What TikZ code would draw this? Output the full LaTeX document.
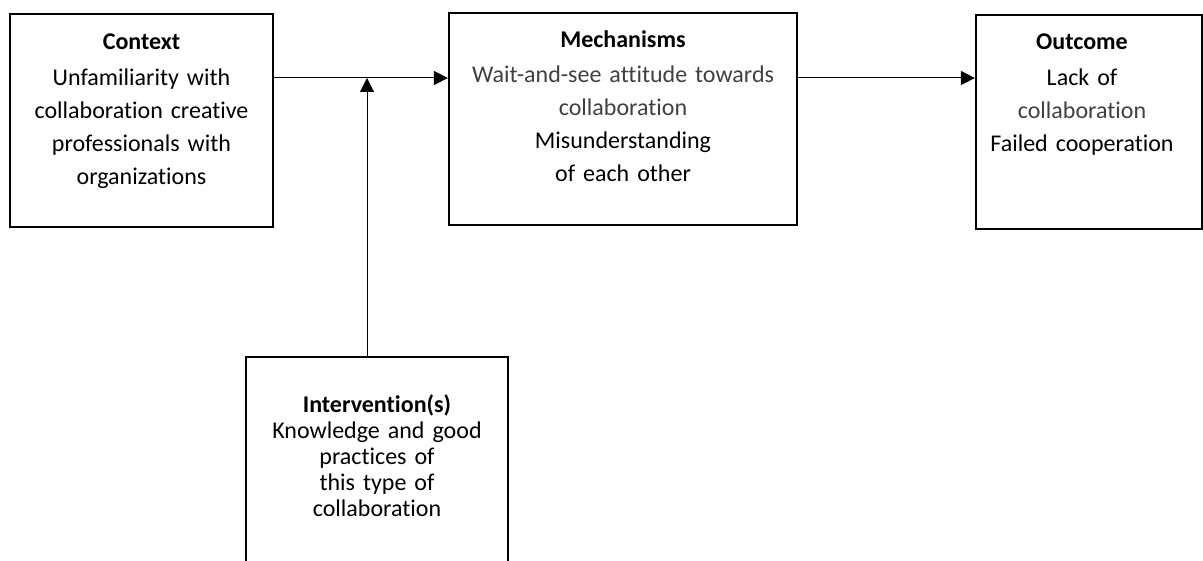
\documentclass[tikz,border=0pt]{standalone}
\usepackage{xcolor}
\usepackage{fontspec}
\setmainfont{Carlito}[Ligatures=NoCommon]
\usepackage{tikz}
\usetikzlibrary{arrows.meta}
\tikzset{>=stealth}
\definecolor{softgray}{HTML}{404040}
\tikzset{
  box/.style={draw, line width=2.2pt, inner sep=0pt},
  txt/.style={text width=340pt, align=center, inner sep=0pt, anchor=base,
              font=\fontsize{24}{33}\selectfont},
  link/.style={-{Triangle[length=14pt,width=14pt]}, line width=1pt},
}

\begin{document}
\begin{tikzpicture}[x=1pt,y=-1pt]
        \useasboundingbox (0,0) rectangle (1203,561);
        \clip (0,0) rectangle (1203,561);
        % Boxes
        \node[box, minimum width=263pt, minimum height=213pt] (context) at (141.5,120.5) {};
        \node[box, minimum width=348pt, minimum height=212pt] (mech) at (623,119) {};
        \node[box, minimum width=226pt, minimum height=214pt] (outcome) at (1089,122) {};
        \node[box, minimum width=262pt, minimum height=263pt] (interv) at (377,488.5) {};

        % Texts
        \node[txt] (contexttext) at (141.5,50) {\textbf{Context}\\[3pt]
          Unfamiliarity with\\ collaboration creative\\ professionals with\\ organizations};
        \node[txt] (mechtext) at (623,48) {\textbf{Mechanisms}\\[2pt]
          \textcolor{softgray}{Wait-and-see attitude towards}\\
          \textcolor{softgray}{collaboration}\\ Misunderstanding\\ of each other};
        \node[txt] (outcometext) at (1082,50) {\textbf{Outcome}\\[3pt]
          Lack of\\ \textcolor{softgray}{collaboration}\\ Failed cooperation};
        \node[txt, font=\fontsize{24}{26}\selectfont] (intervtext) at (377,413) {\textbf{Intervention(s)}\\
          Knowledge and good\\ practices of\\ this type of\\ collaboration};

        % Arrows
        \coordinate (meet) at (367,78);
        \draw[link] (context.east |- meet) -- (mech.west |- meet);
        \draw[link] (mech.east |- meet) -- (outcome.west |- meet);
        \draw[link] (interv.north -| meet) -- (meet);
      \end{tikzpicture}
\end{document}
